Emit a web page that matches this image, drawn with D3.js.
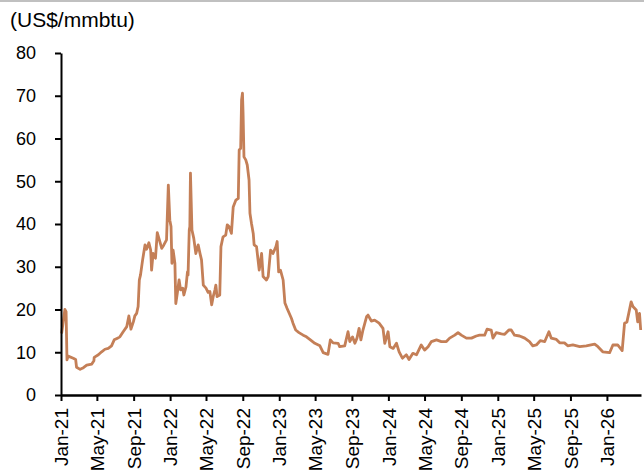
<!DOCTYPE html>
<html>
<head>
<meta charset="utf-8">
<script src="https://cdn.jsdelivr.net/npm/d3@7"></script>
<style>
  html, body { margin: 0; padding: 0; background: #fff; }
  svg { display: block; font-family: "Liberation Sans", Arial, sans-serif; }
</style>
</head>
<body>
<svg id="chart" width="644" height="475"></svg>
<script>
// ---- Data ----
const unitLabel = "(US$/mmbtu)";
const yTicks = [0, 10, 20, 30, 40, 50, 60, 70, 80];
const xTickDates = ["2021-01-01","2021-05-01","2021-09-01","2022-01-01","2022-05-01","2022-09-01",
  "2023-01-01","2023-05-01","2023-09-01","2024-01-01","2024-05-01","2024-09-01",
  "2025-01-01","2025-05-01","2025-09-01","2026-01-01"];
const dates = [
  "2021-01-03","2021-01-14","2021-01-18","2021-01-21","2021-01-25","2021-02-11","2021-02-19","2021-02-22",
  "2021-03-06","2021-03-17","2021-03-28","2021-04-14","2021-04-21","2021-04-22","2021-05-06","2021-05-17",
  "2021-05-28","2021-06-08","2021-06-19","2021-06-28","2021-07-09","2021-07-17","2021-07-28","2021-08-09",
  "2021-08-16","2021-08-23","2021-08-31","2021-09-05","2021-09-11","2021-09-16","2021-09-20","2021-09-24",
  "2021-10-01","2021-10-09","2021-10-14","2021-10-22","2021-10-28","2021-10-31","2021-11-05","2021-11-13",
  "2021-11-19","2021-11-26","2021-12-04","2021-12-11","2021-12-20","2021-12-26","2021-12-31","2022-01-04",
  "2022-01-07","2022-01-11","2022-01-17","2022-01-20","2022-01-25","2022-01-31","2022-02-05","2022-02-12",
  "2022-02-16","2022-02-23","2022-02-28","2022-03-02","2022-03-06","2022-03-08","2022-03-10","2022-03-15",
  "2022-03-21","2022-03-28","2022-04-05","2022-04-11","2022-04-16","2022-04-22","2022-05-01","2022-05-08",
  "2022-05-14","2022-05-20","2022-05-25","2022-05-31","2022-06-03","2022-06-07","2022-06-16","2022-06-20",
  "2022-06-27","2022-07-06","2022-07-11","2022-07-17","2022-07-25","2022-07-31","2022-08-09","2022-08-17",
  "2022-08-20","2022-08-25","2022-08-28","2022-08-31","2022-09-02","2022-09-05","2022-09-11","2022-09-16",
  "2022-09-22","2022-09-25","2022-09-30","2022-10-06","2022-10-09","2022-10-17","2022-10-26","2022-11-03",
  "2022-11-08","2022-11-19","2022-11-25","2022-12-03","2022-12-11","2022-12-21","2022-12-25","2022-12-30",
  "2023-01-05","2023-01-14","2023-01-20","2023-01-27","2023-02-11","2023-02-16","2023-02-25","2023-03-08",
  "2023-03-22","2023-04-02","2023-04-13","2023-04-30","2023-05-17","2023-05-28","2023-06-13","2023-06-21",
  "2023-06-30","2023-07-17","2023-07-22","2023-08-08","2023-08-19","2023-08-25","2023-09-03","2023-09-11",
  "2023-09-18","2023-09-25","2023-10-01","2023-10-08","2023-10-20","2023-10-25","2023-11-05","2023-11-16",
  "2023-12-01","2023-12-14","2023-12-20","2023-12-31","2024-01-06","2024-01-17","2024-01-28","2024-02-06",
  "2024-02-17","2024-03-01","2024-03-10","2024-03-23","2024-04-04","2024-04-20","2024-05-01","2024-05-13",
  "2024-05-24","2024-06-10","2024-06-26","2024-07-13","2024-07-24","2024-08-10","2024-08-21","2024-09-01",
  "2024-09-18","2024-10-05","2024-10-21","2024-11-01","2024-11-18","2024-11-26","2024-12-10","2024-12-16",
  "2024-12-27","2025-01-13","2025-01-24","2025-02-07","2025-02-15","2025-02-26","2025-03-15","2025-04-01",
  "2025-04-17","2025-04-28","2025-05-10","2025-05-23","2025-06-07","2025-06-21","2025-06-29","2025-07-16",
  "2025-07-27","2025-08-12","2025-08-23","2025-09-09","2025-10-02","2025-10-24","2025-11-21","2025-12-02",
  "2025-12-18","2026-01-10","2026-01-21","2026-02-06","2026-02-21","2026-03-01","2026-03-09","2026-03-15",
  "2026-03-23","2026-03-29","2026-04-09","2026-04-14","2026-04-20","2026-04-24"
];
const prices = [
  14.4,20.0,19.5,8.2,9.1,8.6,8.3,6.5,
  6.0,6.4,7.0,7.25,8.0,8.8,9.4,10.1,
  10.7,10.9,11.5,12.9,13.3,13.6,14.8,16.0,
  18.5,15.4,17.1,18.5,19.1,20.7,26.9,28.1,
  31.6,35.1,34.1,35.6,33.9,29.2,33.1,32.0,
  38.0,36.3,34.3,35.1,36.3,49.1,40.9,39.4,
  30.8,33.9,30.8,21.4,23.8,26.9,24.6,25.0,
  23.4,25.3,28.8,28.1,38.6,39.4,51.9,38.6,
  36.7,33.1,35.1,33.1,31.6,25.7,25.0,24.0,
  24.2,21.1,23.0,24.6,25.7,23.0,23.4,34.7,
  37.0,37.4,39.8,39.4,37.8,44.0,45.6,46.0,
  57.3,57.7,69.0,70.6,65.9,55.7,55.0,53.8,
  50.3,42.5,40.2,37.8,35.1,34.7,29.2,33.1,
  27.7,26.9,27.7,33.9,33.1,34.7,35.9,28.8,
  29.2,26.9,21.5,20.3,17.9,16.8,15.2,14.6,
  14.0,13.6,13.0,12.1,11.5,9.9,9.5,12.9,
  12.2,12.1,11.3,11.5,14.8,12.5,13.6,12.1,
  13.3,15.6,12.9,15.2,18.3,18.7,17.3,17.5,
  16.8,15.6,12.1,14.8,11.3,10.9,12.1,10.1,
  8.6,9.4,8.3,9.75,9.4,11.7,10.5,11.3,
  12.5,12.9,12.5,12.5,13.3,14.0,14.6,14.0,
  13.3,13.3,13.8,14.0,14.0,15.4,15.2,13.3,
  14.6,14.3,14.2,15.2,15.2,14.0,13.8,13.3,
  12.5,11.5,11.7,12.7,12.5,14.8,13.3,13.0,
  12.2,12.2,11.5,11.7,11.3,11.5,11.9,11.3,
  10.1,9.9,11.7,11.7,10.4,16.8,17.1,19.1,
  21.8,20.7,19.9,17.1,19.1,15.2
];

// ---- Layout ----
const parse = d3.utcParse("%Y-%m-%d");
const fmt = d3.utcFormat("%b-%y");
const svg = d3.select("#chart");
const margin = { left: 61, right: 3, top: 53, bottom: 80 };
const W = 644, H = 475;

const x = d3.scaleUtc()
  .domain([parse("2021-01-01"), parse("2026-04-25")])
  .range([margin.left, W - margin.right]);
const y = d3.scaleLinear().domain([0, 80]).range([H - margin.bottom, margin.top]);

// top grey rule
svg.append("rect").attr("x", 0).attr("y", 0).attr("width", W).attr("height", 2).attr("fill", "#c0c0c0");

// title
svg.append("text").attr("x", 10).attr("y", 27)
  .attr("font-size", 21).attr("fill", "#000").text(unitLabel);

// line
const series = dates.map((d, i) => ({ date: parse(d), v: prices[i] }));
svg.append("path").datum(series)
  .attr("fill", "none").attr("stroke", "#c47f57").attr("stroke-width", 2.8)
  .attr("stroke-linejoin", "round")
  .attr("d", d3.line().x(d => x(d.date)).y(d => y(d.v)));

// y axis
const yAxis = svg.append("g").attr("transform", `translate(${margin.left},0)`)
  .call(d3.axisLeft(y).tickValues(yTicks).tickSize(6).tickPadding(19).tickSizeOuter(0));
yAxis.select(".domain").attr("stroke", "#000").attr("stroke-width", 2);
yAxis.selectAll(".tick line").attr("stroke", "#000").attr("stroke-width", 2);
yAxis.selectAll("text").attr("font-size", 18).attr("fill", "#000")
  .attr("font-family", "'Liberation Sans', Arial, sans-serif");

// x axis
const xAxis = svg.append("g").attr("transform", `translate(0,${H - margin.bottom})`)
  .call(d3.axisBottom(x).tickValues(xTickDates.map(parse)).tickFormat(fmt).tickSize(6).tickSizeOuter(0));
xAxis.select(".domain").attr("stroke", "#000").attr("stroke-width", 2.5);
xAxis.selectAll(".tick line").attr("stroke", "#000").attr("stroke-width", 2);
xAxis.selectAll("text")
  .attr("font-size", 19).attr("fill", "#000")
  .attr("font-family", "'Liberation Sans', Arial, sans-serif")
  .attr("text-anchor", "end")
  .attr("transform", "rotate(-90)")
  .attr("x", -13).attr("y", 0).attr("dy", "0.35em");
</script>
</body>
</html>
